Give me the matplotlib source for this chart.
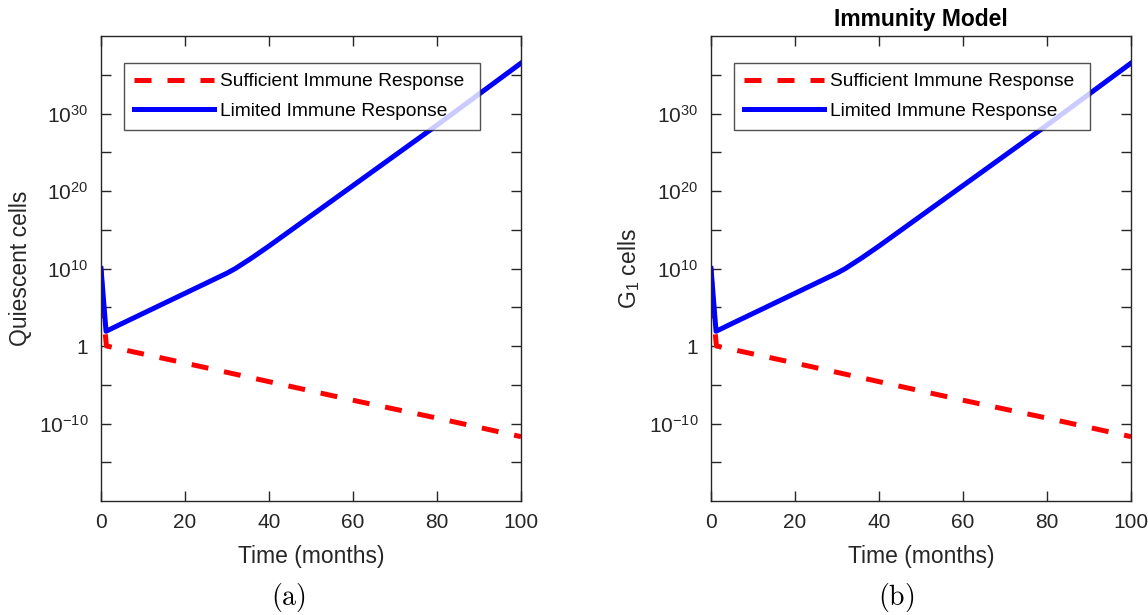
import matplotlib
matplotlib.use("Agg")
import matplotlib.pyplot as plt
import matplotlib.ticker as ticker
import numpy as np

# Limited immune response (log10 of cell count)
t_limited   = [0, 1.2, 5, 10, 15, 20, 25, 30, 32, 34, 36, 40, 50, 60, 70, 80, 90, 100]
log_limited = [10, 1.9, 2.9, 4.2, 5.5, 6.8, 8.1, 9.4, 10.0, 10.7, 11.4, 12.9, 16.8, 20.7, 24.6, 28.5, 32.5, 36.5]

# Sufficient immune response (log10 of cell count)
t_sufficient   = [0, 0.5, 1.3, 20, 40, 60, 80, 100]
log_sufficient = [10, 4.5, 0.0, -2.2, -4.6, -7.0, -9.3, -11.7]

ylabels = ["Quiescent cells", r"G$_1$ cells"]
panel_tags = [r"$\mathrm{(a)}$", r"$\mathrm{(b)}$"]
legend_labels = ["Sufficient Immune Response", "Limited Immune Response"]

ytick_exp = [-15, -10, -5, 0, 5, 10, 15, 20, 25, 30, 35]
ytick_txt = ["", r"$10^{-10}$", "", "1", "", r"$10^{10}$", "", r"$10^{20}$", "", r"$10^{30}$", ""]
xticks = [0, 20, 40, 60, 80, 100]

TXT = "#262626"
plt.rcParams.update({
    "font.family": ["Liberation Sans", "DejaVu Sans"],
    "mathtext.fontset": "custom",
    "mathtext.rm": "Liberation Sans",
    "mathtext.it": "Liberation Sans:italic",
    "mathtext.bf": "Liberation Sans:bold",
    "axes.edgecolor": TXT,
    "xtick.color": TXT,
    "ytick.color": TXT,
    "axes.linewidth": 1.0,
})

fig = plt.figure(figsize=(11.48, 6.15), dpi=100)
W, H = 1148, 615
lefts = [101, 711]
ax_w, top_px, bot_px = 420, 36, 501

for i in range(2):
    ax = fig.add_axes([lefts[i] / W, 1 - bot_px / H, ax_w / W, (bot_px - top_px) / H])
    ax.semilogy(t_sufficient, 10.0 ** np.array(log_sufficient), color="red",
                lw=3.6, linestyle=(0, (3.4, 3.2)), label=legend_labels[0])
    ax.semilogy(t_limited, 10.0 ** np.array(log_limited), color="blue",
                lw=3.6, label=legend_labels[1])
    ax.set_xlim(0, 100)
    ax.set_ylim(1e-20, 1e40)
    ax.set_xticks(xticks)
    ax.xaxis.set_minor_locator(ticker.NullLocator())
    ax.set_yticks([10.0 ** e for e in ytick_exp])
    ax.set_yticklabels(ytick_txt)
    ax.yaxis.set_minor_locator(ticker.NullLocator())
    ax.tick_params(direction="in", length=7, width=1.0, top=True, right=True,
                   labelsize=15, labelcolor=TXT, pad=9)
    ax.set_xlabel("Time (months)", fontsize=16.5, color=TXT, labelpad=9)
    ax.set_ylabel(ylabels[i], fontsize=16.5, color=TXT, labelpad=5)
    leg = ax.legend(loc="upper left", bbox_to_anchor=(0.0545, 0.0, 0.848, 0.942),
                    mode="expand", fontsize=13.8, handlelength=4.17,
                    frameon=True, fancybox=False, borderaxespad=0, borderpad=0.52,
                    labelspacing=0.62, handletextpad=0.3)
    leg.get_frame().set_edgecolor(TXT)
    leg.get_frame().set_linewidth(1.0)
    if i == 1:
        ax.set_title("Immunity Model", fontsize=16.5, fontweight="bold", pad=7)

fig.text(288 / W, 1 - 597 / H, panel_tags[0], fontsize=20, ha="center", va="center",
         math_fontfamily="cm")
fig.text(896 / W, 1 - 597 / H, panel_tags[1], fontsize=20, ha="center", va="center",
         math_fontfamily="cm")

fig.savefig("out.png", dpi=100)
